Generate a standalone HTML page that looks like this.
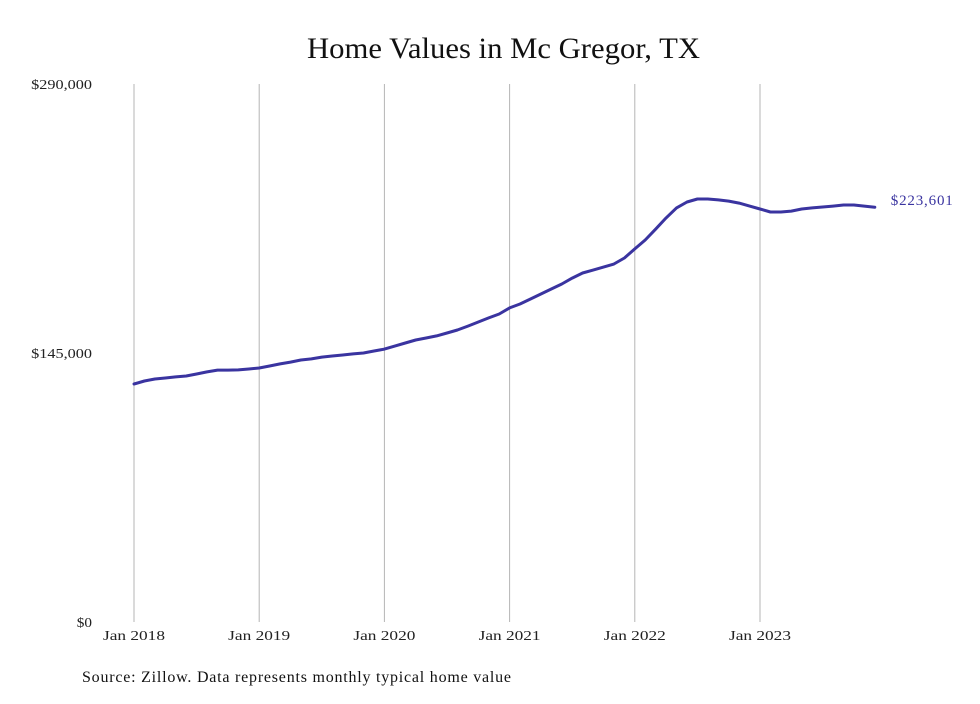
<!DOCTYPE html>
<html><head><meta charset="utf-8"><style>
body{margin:0;background:#fff;}
svg text{font-family:"Liberation Serif",serif;}
</style></head><body>
<svg width="980" height="699" xmlns="http://www.w3.org/2000/svg">
<text x="307" y="58" font-size="30" fill="#111" textLength="393" lengthAdjust="spacingAndGlyphs">Home Values in Mc Gregor, TX</text>
<g id="grid"></g>
<g id="ylabels"></g>
<g id="xlabels"></g>
<path id="line" fill="none" stroke="#3a34a0" stroke-width="3" stroke-linejoin="round" stroke-linecap="round"/>
<text id="endlabel" font-size="15" fill="#3a34a0" textLength="62" lengthAdjust="spacing"></text>
<text x="82" y="682" font-size="16" fill="#111" textLength="429" lengthAdjust="spacing">Source: Zillow. Data represents monthly typical home value</text>
</svg>
<script>
const yTicks=[0,145000,290000];
const yTickLabels=["$0","$145,000","$290,000"];
const xTickLabels=["Jan 2018","Jan 2019","Jan 2020","Jan 2021","Jan 2022","Jan 2023"];
const values=[128300,129900,131000,131500,132100,132600,133700,134800,135800,135800,135900,136400,
136900,138000,139100,140100,141200,141800,142800,143400,143900,144500,145000,146100,
147100,148800,150400,152000,153100,154200,155800,157400,159500,161700,163900,166000,
169300,171400,174100,176800,179500,182200,185400,188100,189700,191300,193000,196200,
201100,205900,211800,217800,223200,226400,228000,228000,227500,226900,225800,224200,
222600,221000,221000,221500,222600,223200,223700,224200,224800,224800,224200,223601];
const x0=134,yearW=125.2,yBase=622,yTop=84,yMax=290000;
const xs=i=>x0+i*yearW/12;
const ys=v=>yBase-v/yMax*(yBase-yTop);
const NS="http://www.w3.org/2000/svg";
const grid=document.getElementById('grid'),yl=document.getElementById('ylabels'),xl=document.getElementById('xlabels');
xTickLabels.forEach((t,k)=>{
 const x=xs(k*12);
 const l=document.createElementNS(NS,'line');
 l.setAttribute('x1',x);l.setAttribute('x2',x);l.setAttribute('y1',yTop);l.setAttribute('y2',yBase);
 l.setAttribute('stroke','#b5b5b5');l.setAttribute('stroke-width','1');
 
 
 grid.appendChild(l);
 const tx=document.createElementNS(NS,'text');
 tx.setAttribute('x',x);tx.setAttribute('y',640);tx.setAttribute('text-anchor','middle');
 tx.setAttribute('font-size','14');tx.setAttribute('fill','#222');tx.textContent=t;
 tx.setAttribute('textLength','62');tx.setAttribute('lengthAdjust','spacingAndGlyphs');
 
 
 xl.appendChild(tx);
});
yTicks.forEach((v,k)=>{
 const tx=document.createElementNS(NS,'text');
 tx.setAttribute('x',92);tx.setAttribute('y',ys(v)+5);tx.setAttribute('text-anchor','end');
 tx.setAttribute('font-size','14');tx.setAttribute('fill','#222');tx.textContent=yTickLabels[k];
 tx.setAttribute('textLength',String(yTickLabels[k].length*7.6));tx.setAttribute('lengthAdjust','spacingAndGlyphs');
 
 
 yl.appendChild(tx);
});
let d='';
values.forEach((v,i)=>{d+=(i?'L':'M')+xs(i).toFixed(1)+' '+ys(v).toFixed(1);});
document.getElementById('line').setAttribute('d',d);
const last=values.length-1,el=document.getElementById('endlabel');
el.setAttribute('x',xs(last)+16);el.setAttribute('y',ys(values[last])-2);
el.textContent='$'+values[last].toLocaleString('en-US');
</script>
</body></html>
